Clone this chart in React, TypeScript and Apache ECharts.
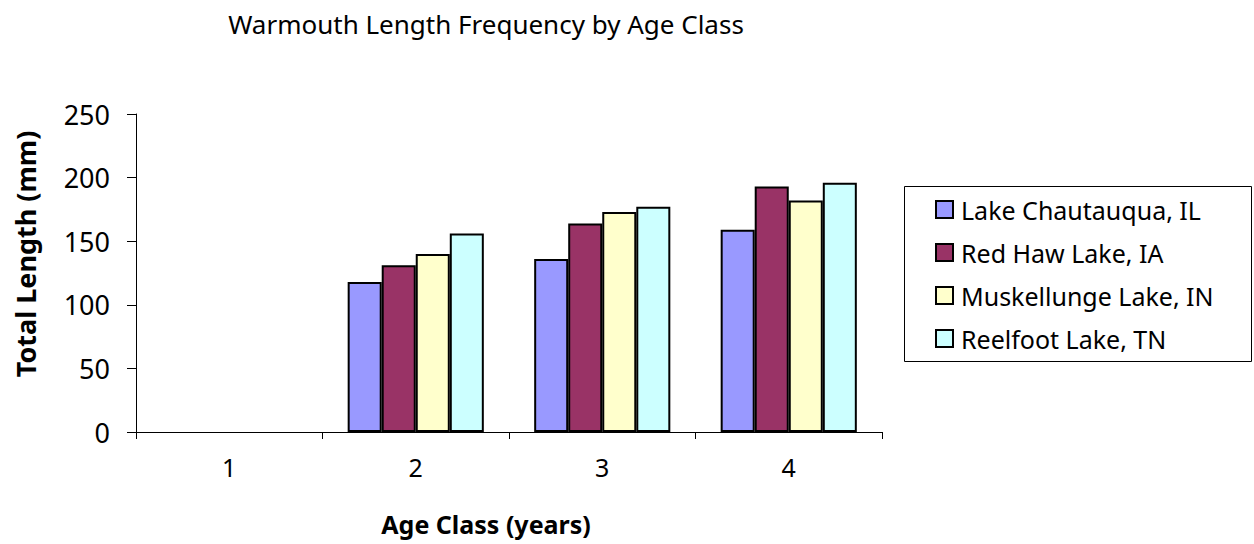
import React, { useEffect, useRef } from "react";
import * as echarts from "echarts";

const categories = ["1", "2", "3", "4"];
const seriesNames = ["Lake Chautauqua, IL", "Red Haw Lake, IA", "Muskellunge Lake, IN", "Reelfoot Lake, TN"];
const chautauqua = [null, 118, 136, 159];
const redHaw = [null, 131, 164, 193];
const muskellunge = [null, 140, 173, 182];
const reelfoot = [null, 156, 177, 196];
const yTicks = [0, 50, 100, 150, 200, 250];
const colors = ["#9999FF", "#993366", "#FFFFCC", "#CCFFFF"];

const FONT = "Noto Sans";

export default function App() {
  const ref = useRef<HTMLDivElement>(null);
  useEffect(() => {
    if (!ref.current) return;
    const chart = echarts.init(ref.current, null, { renderer: "svg" });
    const data = [chautauqua, redHaw, muskellunge, reelfoot];
    chart.setOption({
      animation: false,
      textStyle: { fontFamily: FONT, color: "#000" },
      grid: { left: 136, right: 372, top: 114, bottom: 112 },
      xAxis: {
        type: "category",
        data: categories,
        axisLine: { lineStyle: { color: "#000", width: 1 } },
        axisTick: { show: true, length: 7, inside: false, lineStyle: { color: "#000" } },
        axisLabel: { fontSize: 25, color: "#000", margin: 22, fontFamily: FONT },
      },
      yAxis: {
        type: "value",
        min: yTicks[0],
        max: yTicks[yTicks.length - 1],
        interval: 50,
        splitLine: { show: false },
        axisLine: { show: true, lineStyle: { color: "#000", width: 1 } },
        axisTick: { show: true, length: 9, lineStyle: { color: "#000" } },
        axisLabel: { fontSize: 27, color: "#000", margin: 26, fontFamily: FONT },
      },
      legend: {
        orient: "vertical",
        left: 935,
        top: 197,
        padding: 0,
        itemWidth: 17,
        itemHeight: 17,
        itemGap: 18,
        icon: "rect",
        textStyle: { fontSize: 25, lineHeight: 25, color: "#000", fontFamily: FONT, padding: [0, 0, 0, 3] },
        data: seriesNames.map((n, i) => ({
          name: n,
          itemStyle: { color: colors[i], borderColor: "#000", borderWidth: 2 },
        })),
      },
      graphic: [
        {
          type: "rect",
          shape: { x: 904.5, y: 186.5, width: 347, height: 175 },
          style: { fill: "none", stroke: "#000", lineWidth: 1 },
          silent: true,
        },
        {
          type: "text",
          x: 486,
          y: 24,
          style: {
            text: "Warmouth Length Frequency by Age Class",
            font: `26px "${FONT}"`,
            fill: "#000",
            align: "center",
            verticalAlign: "middle",
          },
        },
        {
          type: "text",
          x: 486,
          y: 524,
          style: {
            text: "Age Class (years)",
            font: `bold 25px "${FONT}"`,
            fill: "#000",
            align: "center",
            verticalAlign: "middle",
          },
        },
        {
          type: "text",
          x: 25,
          y: 254,
          rotation: Math.PI / 2,
          style: {
            text: "Total Length (mm)",
            font: `bold 27px "${FONT}"`,
            fill: "#000",
            align: "center",
            verticalAlign: "middle",
          },
        },
      ],
      series: seriesNames.map((n, i) => ({
        name: n,
        type: "bar",
        data: data[i],
        barGap: "0%",
        barCategoryGap: "27%",
        itemStyle: { color: colors[i], borderColor: "#000", borderWidth: 2 },
      })),
    });
    return () => chart.dispose();
  }, []);
  return (
    <div
      ref={ref}
      style={{ position: "absolute", left: 0, top: 0, width: 1254, height: 544 }}
    />
  );
}
